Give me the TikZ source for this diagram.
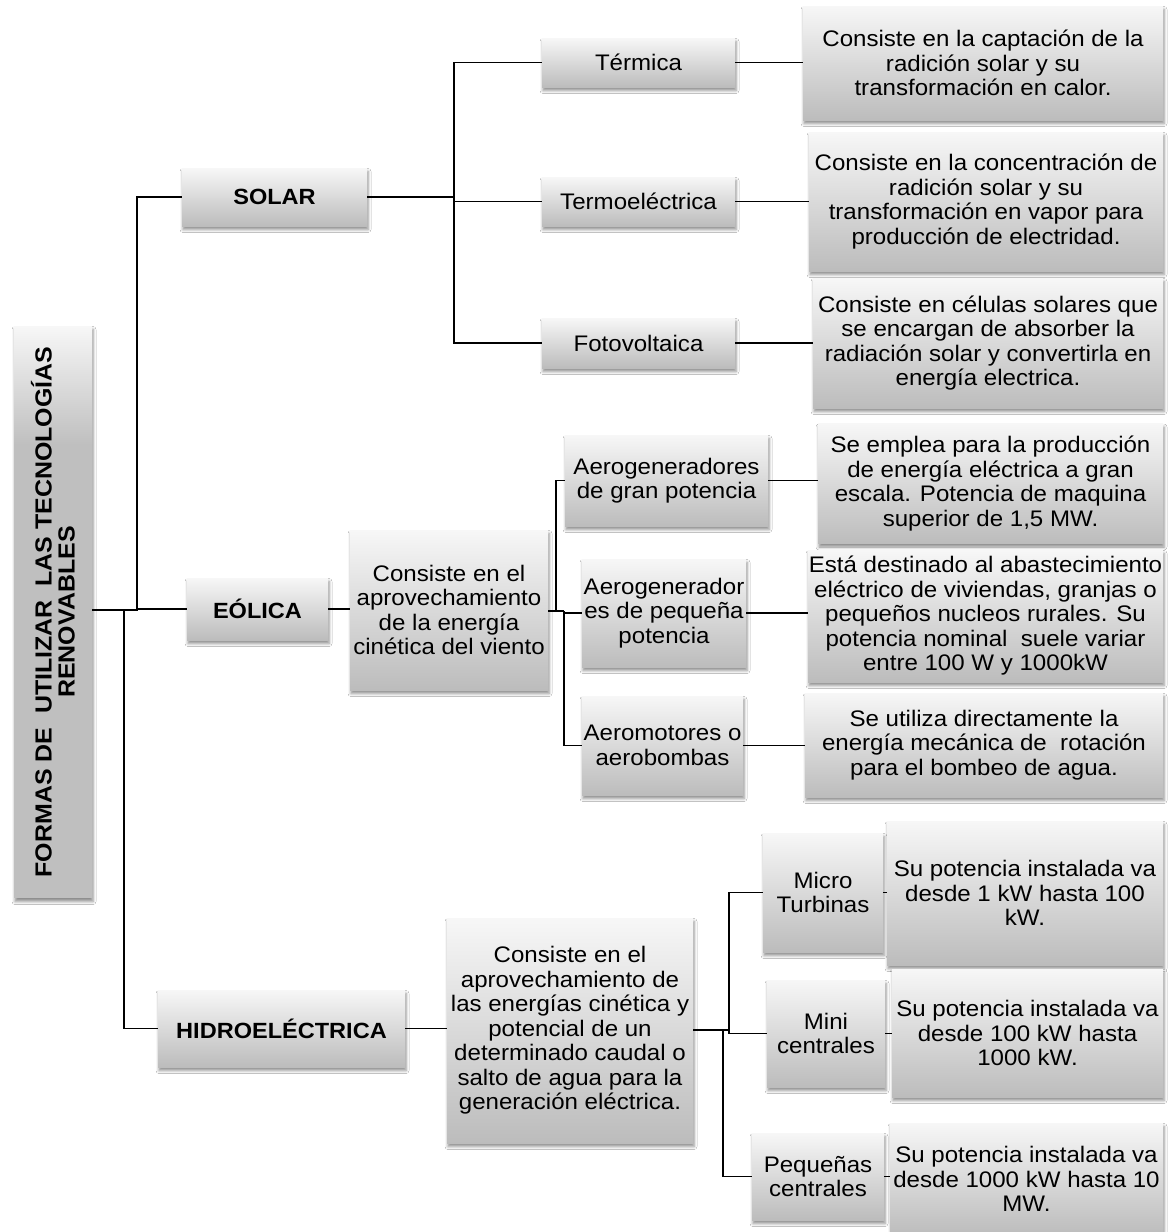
\documentclass[tikz,border=0pt]{standalone}
\usepackage{fontspec}
\setmainfont{Liberation Sans}[FakeStretch=1.07]
\usetikzlibrary{shadows.blur}
\definecolor{gtop}{HTML}{F7F7F7}
\definecolor{gbot}{HTML}{BCBCBC}
\definecolor{rootgray}{HTML}{BFBFBF}
\tikzset{
  box/.style={rectangle, inner sep=0pt, top color=gtop, bottom color=gbot,
    blur shadow={shadow xshift=1pt, shadow yshift=-3.5pt, shadow blur radius=3pt, shadow opacity=45},
    align=center, font=\fontsize{22.5}{24.5}\selectfont},
  lbl/.style={box, font=\fontsize{22}{24}\selectfont\bfseries},
  conn/.style={draw=black, line width=1.3pt}
}
\begin{document}
\begin{tikzpicture}[x=1pt,y=-1pt]
\fill[white] (0,0) rectangle (1175,1232);
\useasboundingbox (0,0) rectangle (1175,1232);

% root
\node[rectangle, inner sep=0pt, fill=rootgray, minimum width=78pt, minimum height=572pt,
  blur shadow={shadow xshift=1pt, shadow yshift=-3.5pt, shadow blur radius=3pt, shadow opacity=45}] (root) at (53,612) {};
\shade[top color=gtop, bottom color=rootgray] (14,326) rectangle (92,445);
\node[rotate=90, align=center, inner sep=0pt, font=\fontsize{23.3}{23}\selectfont\bfseries] (roottext) at (root.center)
  {FORMAS DE\ \ UTILIZAR\ \ LAS TECNOLOGÍAS\\RENOVABLES};

% level 1
\node[lbl, minimum width=185pt, minimum height=58pt] (solar) at (274.5,197) {SOLAR};
\node[lbl, minimum width=141pt, minimum height=62pt] (eolica) at (257.5,609) {EÓLICA};
\node[lbl, minimum width=247pt, minimum height=77pt] (hidro) at (281.5,1028.5) {HIDROELÉCTRICA};

% solar
\node[box, minimum width=193pt, minimum height=49pt] (termica) at (638.5,62.5) {Térmica};
\node[box, minimum width=193pt, minimum height=49pt] (termo) at (638.5,201.5) {Termoeléctrica};
\node[box, minimum width=193pt, minimum height=50pt] (foto) at (638.5,343) {Fotovoltaica};
\node[box, minimum width=360pt, minimum height=114pt] (termicaD) at (983,63)
  {Consiste en la captación de la\\radición solar y su\\transformación en calor.};
\node[box, minimum width=354pt, minimum height=139pt] (termoD) at (986,201.5)
  {Consiste en la concentración de\\radición solar y su\\transformación en vapor para\\producción de electridad.};
\node[box, minimum width=350pt, minimum height=130pt] (fotoD) at (988,343)
  {Consiste en células solares que\\se encargan de absorber la\\radiación solar y convertirla en\\energía electrica.};

% eolica
\node[box, minimum width=198pt, minimum height=160pt] (eoldesc) at (449,610)
  {Consiste en el\\aprovechamiento\\de la energía\\cinética del viento};
\node[box, minimum width=203pt, minimum height=91pt] (aerogran) at (666.5,480.5)
  {Aerogeneradores\\de gran potencia};
\node[box, minimum width=164pt, minimum height=108pt] (aeropeq) at (664,613)
  {Aerogenerador\\es de pequeña\\potencia};
\node[box, minimum width=161pt, minimum height=99pt] (aeromot) at (662.5,745.5)
  {Aeromotores o\\aerobombas};
\node[box, minimum width=345pt, minimum height=120pt] (aerogranD) at (990.5,483.5)
  {Se emplea para la producción\\de energía eléctrica a gran\\escala. Potencia de maquina\\superior de 1,5 MW.};
\node[box, minimum width=355pt, minimum height=132pt] (aeropeqD) at (985.5,616)
  {Está destinado al abastecimiento\\eléctrico de viviendas, granjas o\\pequeños nucleos rurales. Su\\potencia nominal\ \ suele variar\\entre 100 W y 1000kW};
\node[box, minimum width=358pt, minimum height=104pt] (aeromotD) at (984,745)
  {Se utiliza directamente la\\energía mecánica de\ \ rotación\\para el bombeo de agua.};

% hidro
\node[box, minimum width=246pt, minimum height=225pt] (hidroD) at (570,1030.5)
  {Consiste en el\\aprovechamiento de\\las energías cinética y\\potencial de un\\determinado caudal o\\salto de agua para la\\generación eléctrica.};
\node[box, minimum width=120pt, minimum height=119pt] (micro) at (823,892.5) {Micro\\Turbinas};
\node[box, minimum width=118pt, minimum height=107pt] (mini) at (826,1033.5) {Mini\\centrales};
\node[box, minimum width=132pt, minimum height=87pt] (peq) at (818,1176.5) {Pequeñas\\centrales};
\node[box, minimum width=276pt, minimum height=144pt] (microD) at (1025,893)
  {Su potencia instalada va\\desde 1 kW hasta 100\\kW.};
\node[box, minimum width=271pt, minimum height=128pt] (miniD) at (1027.5,1033)
  {Su potencia instalada va\\desde 100 kW hasta\\1000 kW.};
\node[box, minimum width=273pt, minimum height=112pt] (peqD) at (1026.5,1179)
  {Su potencia instalada va\\desde 1000 kW hasta 10\\MW.};

% connectors
\coordinate (j1) at (137,610);
\coordinate (j2) at (124,610);
\draw[conn] (root.east |- j1) -- (j1) |- (solar.west);
\draw[conn] (j1) |- (eolica.west);
\draw[conn] (j2) |- (hidro.west);

\coordinate (js) at (454,197);
\draw[conn] (solar.east) -- (js);
\draw[conn] (js) |- (termica.west);
\draw[conn] (js) |- (termo.west);
\draw[conn] (js) |- (foto.west);
\draw[conn] (termica.east) -- (termicaD.west |- termica.east);
\draw[conn] (termo.east) -- (termoD.west |- termo.east);
\draw[conn] (foto.east) -- (fotoD.west |- foto.east);

\draw[conn] (eolica.east) -- (eoldesc.west |- eolica.east);
\coordinate (je) at (556,611);
\coordinate (je2) at (564,611);
\draw[conn] (eoldesc.east |- je) -- (je2);
\draw[conn] (je) |- (aerogran.west);
\draw[conn] (je2) |- (aeropeq.west);
\draw[conn] (je2) |- (aeromot.west);
\draw[conn] (aerogran.east) -- (aerogranD.west |- aerogran.east);
\draw[conn] (aeropeq.east) -- (aeropeqD.west |- aeropeq.east);
\draw[conn] (aeromot.east) -- (aeromotD.west |- aeromot.east);

\draw[conn] (hidro.east) -- (hidroD.west |- hidro.east);
\coordinate (jh) at (729,1030);
\coordinate (jh2) at (723,1030);
\draw[conn] (hidroD.east |- jh) -- (jh);
\draw[conn] (jh) |- (micro.west);
\draw[conn] (jh) |- (mini.west);
\draw[conn] (jh2) |- (peq.west);
\draw[conn] (micro.east) -- (microD.west |- micro.east);
\draw[conn] (mini.east) -- (miniD.west |- mini.east);
\draw[conn] (peq.east) -- (peqD.west |- peq.east);
\end{tikzpicture}
\end{document}
